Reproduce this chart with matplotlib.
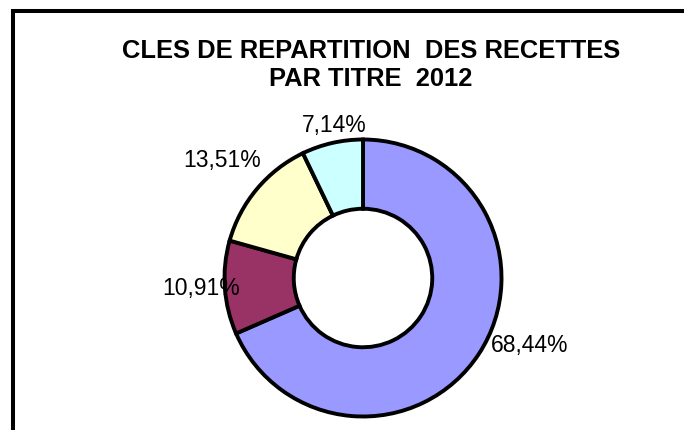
import matplotlib
matplotlib.use("Agg")
import matplotlib.pyplot as plt
from matplotlib.patches import Rectangle

# data
shares = [68.44, 10.91, 13.51, 7.14]
share_labels = ["68,44%", "10,91%", "13,51%", "7,14%"]
colors = ["#9999FF", "#993366", "#FFFFCC", "#CCFFFF"]
title_lines = ["CLES DE REPARTITION  DES RECETTES", "PAR TITRE  2012"]

W, H = 684, 430
plt.rcParams["font.family"] = ["Liberation Sans", "DejaVu Sans"]

fig = plt.figure(figsize=(W / 100, H / 100), dpi=100)
ax = fig.add_axes([0, 0, 1, 1])

# donut, pixel units with y going up
cx, cy, r = 363, H - 278, 138.5
ax.pie(
    shares,
    colors=colors,
    startangle=90,
    counterclock=False,
    center=(cx, cy),
    radius=r,
    wedgeprops=dict(width=r * 0.5, edgecolor="black", linewidth=2.8),
)
ax.set_xlim(0, W)
ax.set_ylim(0, H)
ax.set_aspect("auto")
ax.axis("off")

# label anchors (left x, baseline y from the top)
label_pos = [(491, 352), (162, 295), (183, 167), (302, 132)]
for txt, (lx, ly) in zip(share_labels, label_pos):
    ax.text(lx, H - ly, txt, fontsize=16.5, ha="left", va="baseline")

# title
for line, base in zip(title_lines, [57.5, 86.5]):
    ax.text(371, H - base, line, fontsize=18.4, fontweight="bold",
            ha="center", va="baseline")

# frame (only left and top sides are inside the picture)
ax.add_patch(Rectangle((13, -40), 720, H - 11 + 40, fill=False,
                       edgecolor="black", linewidth=2.9, clip_on=False))

fig.savefig("out.png", dpi=100)
